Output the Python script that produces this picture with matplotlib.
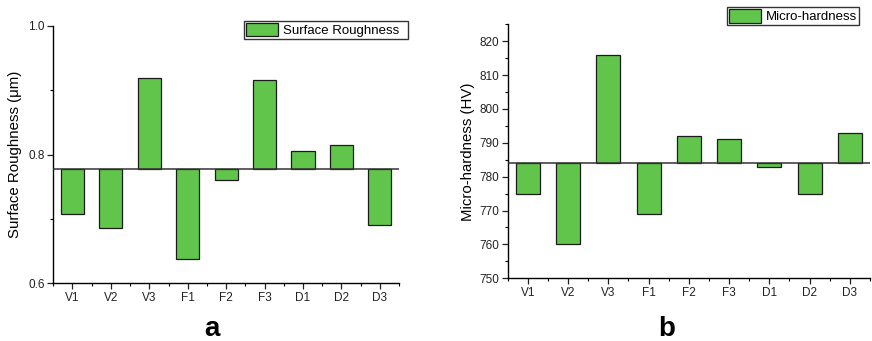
import numpy as np
import matplotlib
matplotlib.use("Agg")
import matplotlib.pyplot as plt
from matplotlib.ticker import MultipleLocator, FixedLocator, FormatStrFormatter

plt.rcParams['font.family'] = ['Liberation Sans', 'DejaVu Sans']

samples = ['V1', 'V2', 'V3', 'F1', 'F2', 'F3', 'D1', 'D2', 'D3']
roughness = [0.708, 0.686, 0.919, 0.637, 0.760, 0.915, 0.805, 0.814, 0.691]
roughness_base = 0.777
hardness = [775, 760, 816, 769, 792, 791, 783, 775, 793]
hardness_base = 784

green = '#62c54b'


def bar_panel(ax, values, base, ylim, major, minor, ylabel, lpad):
    x = np.arange(len(samples))
    vals = np.array(values, dtype=float)
    bars = ax.bar(x, vals - base, bottom=base, width=0.6, color=green,
                  edgecolor='#1a1a1a', linewidth=0.9, zorder=2)
    ax.axhline(base, color='#333333', linewidth=1.1, zorder=3)
    ax.set_xlim(-0.5, len(samples) - 0.5)
    ax.set_ylim(*ylim)
    ax.set_xticks(x)
    ax.set_xticklabels(samples)
    ax.xaxis.set_minor_locator(FixedLocator(np.arange(-0.5, len(samples), 1.0)))
    ax.yaxis.set_major_locator(MultipleLocator(major))
    ax.yaxis.set_minor_locator(MultipleLocator(minor))
    ax.spines['top'].set_visible(False)
    ax.spines['right'].set_visible(False)
    for s in ('left', 'bottom'):
        ax.spines[s].set_linewidth(1.0)
    ax.tick_params(which='major', direction='out', length=4, width=0.9,
                   labelsize=8.5, colors='#222222')
    ax.tick_params(which='minor', direction='out', length=2.5, width=0.8)
    ax.tick_params(axis='x', pad=2.5)
    ax.tick_params(axis='y', pad=2)
    ax.set_ylabel(ylabel, fontsize=10.8, labelpad=lpad)
    return bars


fig = plt.figure(figsize=(8.72, 3.41), dpi=100)
ax_a = fig.add_axes([0.0611, 0.1692, 0.3965, 0.7554])
ax_b = fig.add_axes([0.5822, 0.1839, 0.4155, 0.7448])

bars_a = bar_panel(ax_a, roughness, roughness_base, (0.6, 1.0), 0.2, 0.1,
                   'Surface Roughness (\u03bcm)', 5)
ax_a.yaxis.set_major_formatter(FormatStrFormatter('%.1f'))
bars_b = bar_panel(ax_b, hardness, hardness_base, (750, 825), 10, 5,
                   'Micro-hardness (HV)', 3)

leg_kw = dict(fontsize=9.5, frameon=True, fancybox=False, handlelength=2.4,
              handleheight=1.2, borderpad=0.15, handletextpad=0.4,
              borderaxespad=0)
leg_a = ax_a.legend([bars_a], ['Surface Roughness  '], loc='upper left',
                    bbox_to_anchor=(0.2798, 0.9393),
                    bbox_transform=fig.transFigure, **leg_kw)
leg_b = ax_b.legend([bars_b], ['Micro-hardness'], loc='upper left',
                    bbox_to_anchor=(0.834, 0.9786),
                    bbox_transform=fig.transFigure, **leg_kw)
for leg in (leg_a, leg_b):
    leg.get_frame().set_edgecolor('black')
    leg.get_frame().set_linewidth(1.0)

fig.text(0.2428, 0.014, 'a', fontsize=20, fontweight='bold', ha='center')
fig.text(0.765, 0.014, 'b', fontsize=20, fontweight='bold', ha='center')

fig.savefig('out.png', dpi=100)
